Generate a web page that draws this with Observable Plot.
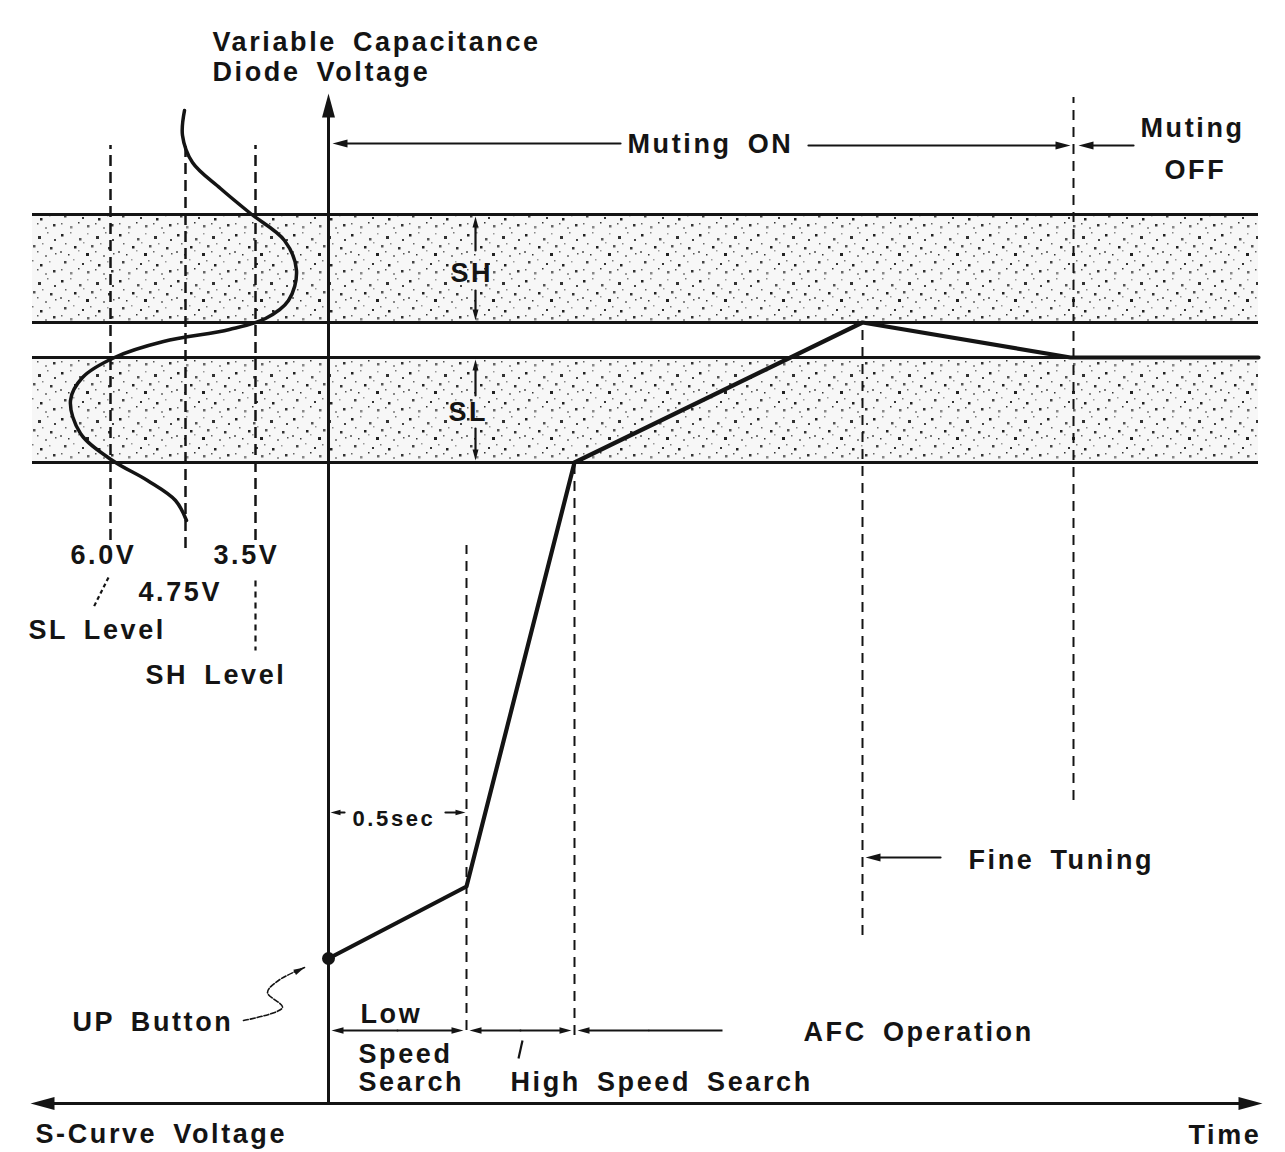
<!DOCTYPE html>
<html><head><meta charset="utf-8">
<script src="https://cdn.jsdelivr.net/npm/d3@7"></script>
<script src="https://cdn.jsdelivr.net/npm/@observablehq/plot@0.6"></script>
<style>html,body{margin:0;padding:0;background:#fff;} #chart svg{display:block}</style>
</head><body><div id="chart"></div>
<script>
// Units: t = time units (0 = UP button pressed, the voltage axis), v = voltage units (0 = time axis)
// Left of t = 0 the horizontal direction is S-curve voltage (increasing to the left).

// Diode-voltage reference levels
const levelV = [889, 781, 746, 641];
const levelStart = -296, levelEnd = 930;
const bandNames = ["SH", "SL"];
const bandLow = [781, 641];
const bandHigh = [889, 746];

// Diode-voltage trace during search / AFC
const traceT = [0, 138, 246, 534, 742, 930];
const traceV = [145, 217, 641, 781, 746, 746];

// S-curve (drawn along the left side)
const sCurveT = [-144, -146, -136, -108, -78, -44, -32, -40, -63, -99, -165, -214, -246, -258, -248, -216, -181, -153, -142];
const sCurveV = [993, 968, 941, 915, 890, 863, 833, 803, 785, 774, 762, 746, 726, 703, 670, 643, 623, 603, 583];

// S-curve voltage markers
const sVoltLabels = ["6.0V", "4.75V", "3.5V"];
const sVoltT = [-218, -143, -73];
const sVoltTop = [958, 958, 958];
const sVoltBottom = [563, 555, 563];

// Event markers (dashed verticals)
const eventNames = ["Low speed end", "High speed end", "Fine tuning", "Muting OFF"];
const eventT = [138, 246, 534, 745];
const eventTop = [558, 641, 781, 1006];
const eventBottom = [73, 68, 168, 303];

// Labels
const labels = ["Variable Capacitance", "Diode Voltage", "Muting ON", "Muting", "OFF", "SH", "SL",
  "6.0V", "3.5V", "4.75V", "SL Level", "SH Level", "Fine Tuning", "UP Button", "Low", "Speed", "Search",
  "High Speed Search", "AFC Operation", "S-Curve Voltage", "Time"];
const labelT = [-116, -116, 299, 812, 836, 122, 120, -258, -115, -190, -300, -183, 640, -256, 32, 30, 30, 182, 475, -293, 860];
const labelV = [1053, 1023, 951, 967, 925, 822, 683, 540, 540, 503, 465, 420, 235, 73, 81, 41, 13, 13, 63, -39, -40];
const smallLabels = ["0.5sec"];
const smallLabelT = [24];
const smallLabelV = [278];

// Arrows: from (t1, v1) to the head at (t2, v2)
const arrowT1 = [0, 0, 0, 292, 480, 805, 147, 147, 147, 147, 16, 117, 612, 69, 69, 192, 192, 320];
const arrowV1 = [0, 0, 0, 960, 958, 958, 853, 813, 708, 675, 291, 291, 246, 73, 73, 73, 73, 73];
const arrowT2 = [0, 934, -298, 4, 742, 750, 147, 147, 147, 147, 2, 137, 537, 3, 135, 141, 243, 249];
const arrowV2 = [1010, 0, 0, 960, 958, 958, 887, 783, 744, 643, 291, 291, 246, 73, 73, 73, 73, 73];
const arrowHead = [24, 24, 24, 15, 15, 15, 11, 11, 11, 11, 10, 10, 15, 12, 12, 12, 12, 12];

// Plain lines
const lineT1 = [320, -220, 194, -73];
const lineV1 = [73, 526, 63, 523];
const lineT2 = [394, -235, 190, -73];
const lineV2 = [73, 496, 45, 453];
const lineDash = ["none", "4,3", "none", "6,5"];

// UP button leader squiggle
const leaderT = [-85, -46, -61, -50, -24];
const leaderV = [83, 96, 111, 123, 136];

const rows = (n, f) => d3.range(n).map(f);
const bands = rows(2, i => ({name: bandNames[i], lo: bandLow[i], hi: bandHigh[i]}));
const trace = rows(traceT.length, i => ({t: traceT[i], v: traceV[i]}));
const sCurve = rows(sCurveT.length, i => ({t: sCurveT[i], v: sCurveV[i]}));
const sVolt = rows(3, i => ({name: sVoltLabels[i], t: sVoltT[i], top: sVoltTop[i], bottom: sVoltBottom[i]}));
const events = rows(eventT.length, i => ({name: eventNames[i], t: eventT[i], top: eventTop[i], bottom: eventBottom[i]}));
const texts = rows(labels.length, i => ({text: labels[i], t: labelT[i], v: labelV[i]}));
const smallTexts = rows(smallLabels.length, i => ({text: smallLabels[i], t: smallLabelT[i], v: smallLabelV[i]}));
const arrows = rows(arrowT1.length, i => ({t1: arrowT1[i], v1: arrowV1[i], t2: arrowT2[i], v2: arrowV2[i], h: arrowHead[i],
  angle: Math.atan2(arrowT2[i] - arrowT1[i], arrowV2[i] - arrowV1[i]) * 180 / Math.PI}));
const lines = rows(lineT1.length, i => ({t1: lineT1[i], v1: lineV1[i], t2: lineT2[i], v2: lineV2[i], dash: lineDash[i]}));
const leader = rows(leaderT.length, i => ({t: leaderT[i], v: leaderV[i]}));
const nL = leader.length;
const leaderTip = [{t: leaderT[nL - 1], v: leaderV[nL - 1],
  angle: Math.atan2(leaderT[nL - 1] - leaderT[nL - 2], leaderV[nL - 1] - leaderV[nL - 2]) * 180 / Math.PI}];
const ink = "#141414";

// solid narrow arrowhead, tip at the origin, pointing up before rotation
const headSymbol = {draw(ctx, size) {
  const L = Math.sqrt(size / Math.PI), w = L * 0.27;
  ctx.moveTo(0, 0); ctx.lineTo(w, L); ctx.lineTo(-w, L); ctx.closePath();
}};

const headSizes = [...new Set(arrowHead)];
const marks = [
  Plot.rect(bands, {x1: levelStart, x2: levelEnd, y1: "lo", y2: "hi", fill: "url(#stipple)"}),
  Plot.ruleY(levelV, {x1: levelStart, x2: levelEnd, stroke: ink, strokeWidth: 3}),
  Plot.ruleX(sVolt, {x: "t", y1: "bottom", y2: "top", stroke: ink, strokeWidth: 2.5, strokeDasharray: "11,6"}),
  Plot.ruleX(events, {x: "t", y1: "bottom", y2: "top", stroke: ink, strokeWidth: 2, strokeDasharray: "10,7"}),
  Plot.line(sCurve, {x: "t", y: "v", curve: "catmull-rom", stroke: ink, strokeWidth: 3.5}),
  Plot.line(trace, {x: "t", y: "v", stroke: ink, strokeWidth: 4.2, strokeLinejoin: "round"}),
  Plot.line(leader, {x: "t", y: "v", curve: "catmull-rom", stroke: ink, strokeWidth: 1.6, strokeDasharray: "5,2"}),
  Plot.dot(leaderTip, {x: "t", y: "v", rotate: "angle", symbol: headSymbol, r: 11, fill: ink, stroke: "none"}),
  ...headSizes.map(h => Plot.arrow(arrows.filter(a => a.h === h), {x1: "t1", y1: "v1", x2: "t2", y2: "v2", stroke: ink,
    strokeWidth: h >= 20 ? 3 : 2.2, headLength: 0, insetEnd: h * 0.6})),
  ...headSizes.map(h => Plot.dot(arrows.filter(a => a.h === h), {x: "t2", y: "v2", rotate: "angle", symbol: headSymbol, r: h, fill: ink, stroke: "none"})),
  ...lineDash.map((d, i) => Plot.link([lines[i]], {x1: "t1", y1: "v1", x2: "t2", y2: "v2", stroke: ink, strokeWidth: 2.2, strokeDasharray: d})),
  Plot.dot(trace.slice(0, 1), {x: "t", y: "v", r: 6.5, fill: ink}),
  Plot.text(texts, {x: "t", y: "v", text: "text", textAnchor: "start", lineAnchor: "bottom", fontSize: 27, fontWeight: "bold", fill: ink}),
  Plot.text(smallTexts, {x: "t", y: "v", text: "text", textAnchor: "start", lineAnchor: "bottom", fontSize: 22, fontWeight: "bold", fill: ink})
];

const svg = Plot.plot({
  width: 1285, height: 1152, margin: 0,
  x: {domain: [-328, 957], axis: null},
  y: {domain: [-49, 1103], axis: null},
  style: {background: "#fff", fontFamily: "'Liberation Sans', Arial, sans-serif", letterSpacing: "2.6px", wordSpacing: "6px", overflow: "visible"},
  marks
});

// stipple texture for the SH/SL bands
const defs = d3.select(svg).insert("defs", ":first-child");
const pat = defs.append("pattern").attr("id", "stipple").attr("patternUnits", "userSpaceOnUse").attr("width", 58).attr("height", 46);
pat.append("rect").attr("width", 58).attr("height", 46).attr("fill", "#f7f7f7");
const specks = [[3,4,2.5,"#222"],[12,2,1.5,"#888"],[21,8,2.5,"#555"],[29,3,1.5,"#999"],[38,6,3,"#333"],[47,2,1.5,"#777"],[54,9,2,"#444"],
  [7,13,1.5,"#666"],[16,16,2.5,"#222"],[25,12,1.5,"#999"],[33,15,2.5,"#555"],[42,13,1.5,"#888"],[50,17,2.5,"#333"],
  [2,21,2,"#777"],[10,24,1.5,"#333"],[20,20,1.5,"#999"],[28,23,3,"#222"],[37,21,1.5,"#666"],[45,25,2,"#888"],[55,23,1.5,"#555"],
  [6,31,2.5,"#444"],[15,29,1.5,"#999"],[24,33,2,"#333"],[32,30,1.5,"#777"],[40,34,2.5,"#222"],[49,31,1.5,"#999"],
  [3,39,1.5,"#666"],[12,42,2.5,"#888"],[20,38,1.5,"#333"],[29,41,2.5,"#666"],[37,39,1.5,"#555"],[45,43,2,"#999"],[53,40,2.5,"#333"]];
specks.forEach(([x, y, s, c]) => pat.append("rect").attr("x", x).attr("y", y).attr("width", s).attr("height", s).attr("fill", c));

document.getElementById("chart").appendChild(svg);
</script></body></html>
